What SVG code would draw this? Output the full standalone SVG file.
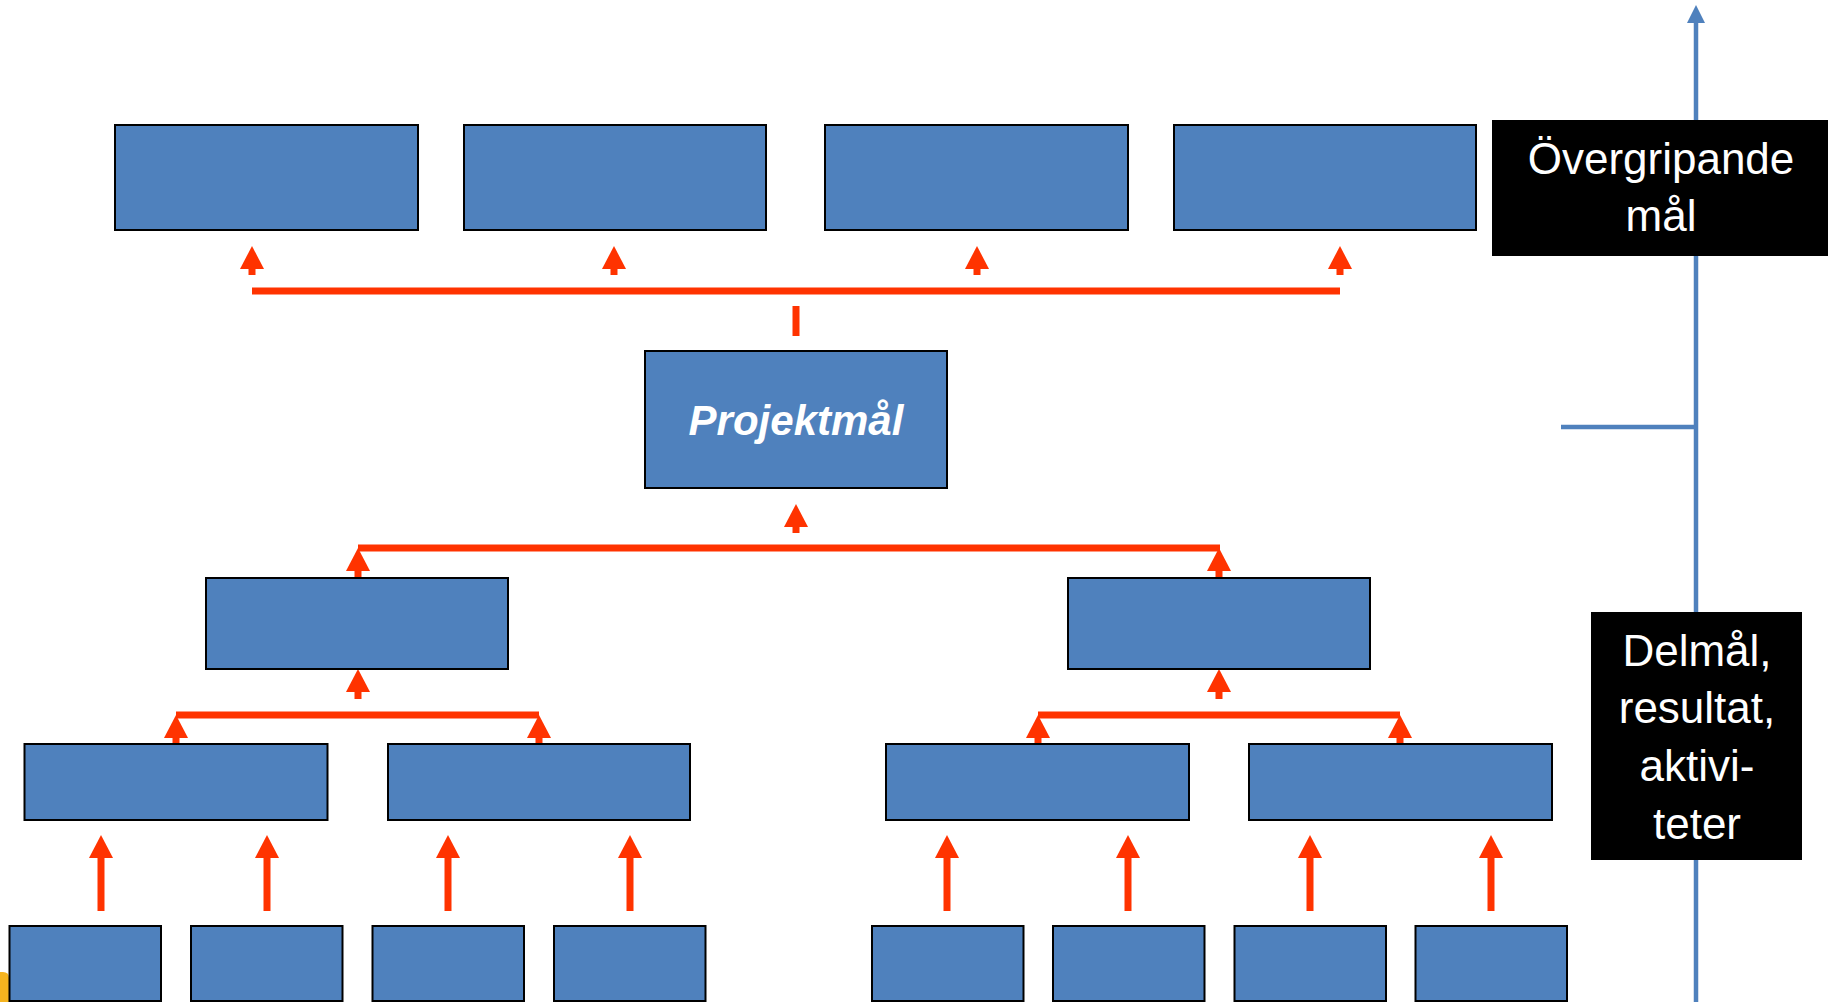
<svg xmlns="http://www.w3.org/2000/svg" width="1828" height="1002" viewBox="0 0 1828 1002">
<style>
.box{fill:#4F81BD;stroke:#000;stroke-width:2}
.conn{stroke:#FF3300;stroke-width:7;fill:none}
.arr{stroke:#FF3300;stroke-width:7;fill:none;marker-end:url(#ah)}
.axis{stroke:#4F81BD;stroke-width:4.5;fill:none}
.lbl{font-family:"Liberation Sans",Arial,sans-serif;fill:#fff;text-anchor:middle}
.side{fill:#000}
</style>
<defs>
<marker id="ah" markerUnits="userSpaceOnUse" markerWidth="24" markerHeight="24" refX="0" refY="12" orient="auto">
<path d="M0,0 L23,12 L0,24 z" fill="#FF3300"/>
</marker>
<marker id="ahb" markerUnits="userSpaceOnUse" markerWidth="20" markerHeight="20" refX="0" refY="9" orient="auto">
<path d="M0,0 L18,9 L0,18 z" fill="#4F81BD"/>
</marker>
</defs>
<rect width="1828" height="1002" fill="#fff"/>
<path d="M0,972 H3 Q9,972 9,978 V1002 H0 z" fill="#F5B41F"/>

<g id="axis">
<path class="axis" d="M1696,1002 V23" marker-end="url(#ahb)"/>
<path class="axis" d="M1561,427 H1696"/>
</g>

<g id="connectors">
<path class="conn" d="M252,291 H1340"/>
<path class="conn" d="M796,306 V336"/>
<path class="arr" d="M252,275 V269"/>
<path class="arr" d="M614,275 V269"/>
<path class="arr" d="M977,275 V269"/>
<path class="arr" d="M1340,275 V269"/>
<path class="arr" d="M796,533 V527"/>
<path class="conn" d="M358,548 H1220"/>
<path class="arr" d="M358,578 V571"/>
<path class="arr" d="M1219,578 V571"/>
<path class="arr" d="M358,699 V692"/>
<path class="arr" d="M1219,699 V692"/>
<path class="conn" d="M176,715 H539"/>
<path class="conn" d="M1038,715 H1400"/>
<path class="arr" d="M176,744 V738"/>
<path class="arr" d="M539,744 V738"/>
<path class="arr" d="M1038,744 V738"/>
<path class="arr" d="M1400,744 V738"/>
<path class="arr" d="M101,911 V858"/>
<path class="arr" d="M267,911 V858"/>
<path class="arr" d="M448,911 V858"/>
<path class="arr" d="M630,911 V858"/>
<path class="arr" d="M947,911 V858"/>
<path class="arr" d="M1128,911 V858"/>
<path class="arr" d="M1310,911 V858"/>
<path class="arr" d="M1491,911 V858"/>
</g>

<g id="top1"><rect class="box" x="115" y="125" width="303" height="105"/></g>
<g id="top2"><rect class="box" x="464" y="125" width="302" height="105"/></g>
<g id="top3"><rect class="box" x="825" y="125" width="303" height="105"/></g>
<g id="top4"><rect class="box" x="1174" y="125" width="302" height="105"/></g>

<g id="projektmal">
<rect class="box" x="645" y="351" width="302" height="137"/>
<text class="lbl" x="796" y="435" font-size="42" font-weight="bold" font-style="italic">Projektmål</text>
</g>

<g id="mid1"><rect class="box" x="206" y="578" width="302" height="91"/></g>
<g id="mid2"><rect class="box" x="1068" y="578" width="302" height="91"/></g>

<g id="sub1"><rect class="box" x="24.5" y="744" width="303" height="76"/></g>
<g id="sub2"><rect class="box" x="388" y="744" width="302" height="76"/></g>
<g id="sub3"><rect class="box" x="886" y="744" width="303" height="76"/></g>
<g id="sub4"><rect class="box" x="1249" y="744" width="303" height="76"/></g>

<g id="leaf1"><rect class="box" x="9.5" y="926" width="151.5" height="75"/></g>
<g id="leaf2"><rect class="box" x="191" y="926" width="151.5" height="75"/></g>
<g id="leaf3"><rect class="box" x="372.5" y="926" width="151.5" height="75"/></g>
<g id="leaf4"><rect class="box" x="554" y="926" width="151.5" height="75"/></g>
<g id="leaf5"><rect class="box" x="872" y="926" width="151.5" height="75"/></g>
<g id="leaf6"><rect class="box" x="1053" y="926" width="151.5" height="75"/></g>
<g id="leaf7"><rect class="box" x="1234.5" y="926" width="151.5" height="75"/></g>
<g id="leaf8"><rect class="box" x="1415.5" y="926" width="151.5" height="75"/></g>

<g id="overgripande">
<rect class="side" x="1492" y="120" width="336" height="136"/>
<text class="lbl" x="1661" y="174" font-size="44">Övergripande</text>
<text class="lbl" x="1661" y="231" font-size="44">mål</text>
</g>

<g id="delmal">
<rect class="side" x="1591" y="612" width="211" height="248"/>
<text class="lbl" x="1697" y="666" font-size="44">Delmål,</text>
<text class="lbl" x="1697" y="723" font-size="44">resultat,</text>
<text class="lbl" x="1697" y="781" font-size="44">aktivi-</text>
<text class="lbl" x="1697" y="839" font-size="44">teter</text>
</g>
</svg>
